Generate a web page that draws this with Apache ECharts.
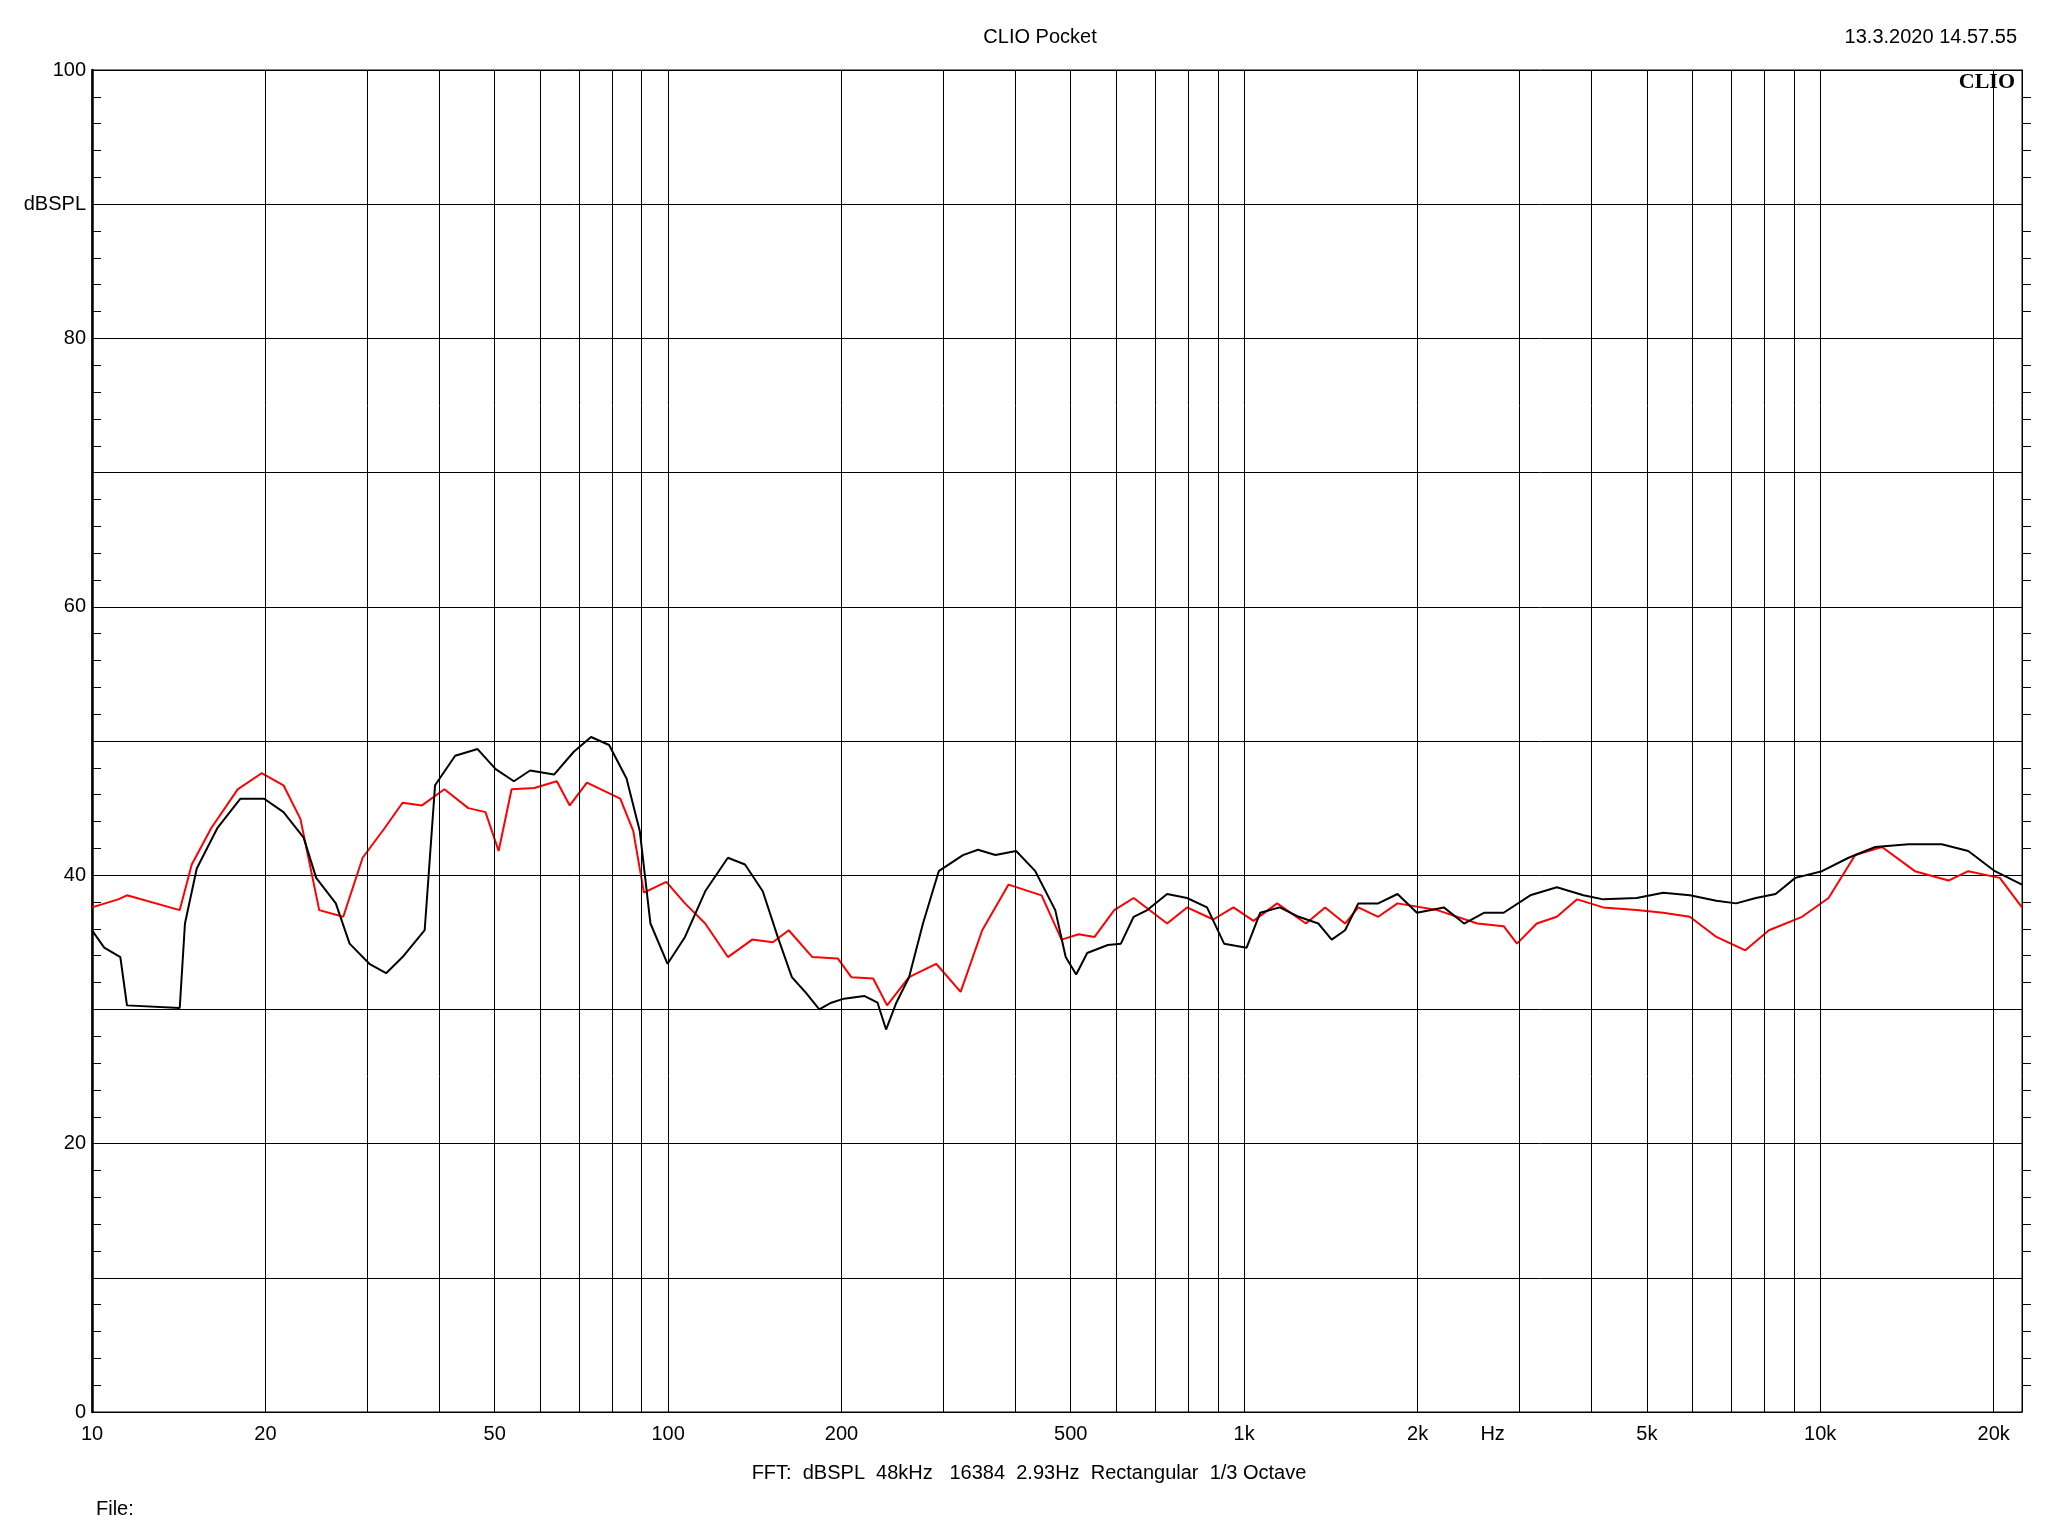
<!DOCTYPE html>
<html><head><meta charset="utf-8">
<script src="https://cdn.jsdelivr.net/npm/echarts@6/dist/echarts.min.js"></script>
<style>html,body{margin:0;padding:0;background:#fff}#c{width:2048px;height:1536px}</style>
</head><body><div id="c"></div>
<script>
const blackFreq=[10,10.5,11.2,11.5,14.2,14.5,15.2,16.5,18.1,19.9,21.5,23.3,24.5,26.5,28,30.3,32.4,34.6,37.8,39.4,42.7,46.7,50.2,54,57.6,63.4,68.6,73.5,79,84.7,89.3,93.2,99.8,107,116,127,136,146,155,164,173,183,192,202,219,231,239,249,262,277,295,325,345,370,402,434,470,490,511,534,580,611,643,679,735,796,862,923,1010,1066,1153,1244,1345,1419,1497,1578,1709,1846,1995,2221,2409,2607,2821,3138,3490,3881,4200,4801,5339,5938,6603,7146,7732,8366,9052,10070,11200,12460,14230,16250,18070,20100,22400];
const blackDb=[35.9,34.6,33.9,30.3,30.1,36.4,40.5,43.5,45.7,45.7,44.7,42.8,39.8,37.9,34.9,33.4,32.7,33.9,35.9,46.7,48.9,49.4,47.9,47.0,47.8,47.5,49.2,50.3,49.7,47.2,43.3,36.4,33.4,35.4,38.8,41.3,40.8,38.8,35.4,32.4,31.3,30.0,30.5,30.8,31.0,30.5,28.5,30.5,32.4,36.4,40.3,41.5,41.9,41.5,41.8,40.3,37.4,33.9,32.6,34.2,34.8,34.9,36.9,37.4,38.6,38.3,37.6,34.9,34.6,37.2,37.6,36.9,36.4,35.2,35.9,37.9,37.9,38.6,37.2,37.6,36.4,37.2,37.2,38.5,39.1,38.5,38.2,38.3,38.7,38.5,38.1,37.9,38.3,38.6,39.8,40.3,41.3,42.1,42.3,42.3,41.8,40.3,39.3];
const redFreq=[10,11.1,11.5,14.2,14.9,16.1,17.9,19.7,21.5,23,24.8,27.3,29.5,32.2,34.6,37.4,40.9,45,48.2,50.8,53.5,58.6,64.1,67.5,72.3,82.6,87,90.8,99.3,107,116,127,140,152,162,178,197,208,227,240,262,292,322,351,390,445,482,516,550,595,643,735,796,884,958,1038,1141,1280,1382,1497,1578,1709,1846,2163,2540,2821,2976,3221,3490,3785,4200,4801,5339,5938,6603,7414,8147,9300,10340,11500,12800,14600,16700,18070,20500,22400];
const redDb=[37.6,38.2,38.5,37.4,40.8,43.5,46.4,47.6,46.7,44.2,37.4,36.9,41.3,43.5,45.4,45.2,46.4,45.0,44.7,41.8,46.4,46.5,47.0,45.2,46.9,45.7,43.3,38.7,39.5,37.9,36.4,33.9,35.2,35.0,35.9,33.9,33.8,32.4,32.3,30.3,32.4,33.4,31.3,35.9,39.3,38.5,35.2,35.6,35.4,37.4,38.3,36.4,37.6,36.7,37.6,36.6,37.9,36.4,37.6,36.4,37.6,36.9,37.9,37.4,36.4,36.2,34.9,36.4,36.9,38.2,37.6,37.4,37.2,36.9,35.4,34.4,35.9,36.9,38.3,41.5,42.1,40.3,39.6,40.3,39.8,37.6];
const gridFreqs=[20,30,40,50,60,70,80,90,100,200,300,400,500,600,700,800,900,1000,2000,3000,4000,5000,6000,7000,8000,9000,10000,20000];
const labelFreqs=[10,20,50,100,200,500,1000,2000,2700,5000,10000,20000];
const labelTexts=['10','20','50','100','200','500','1k','2k','Hz','5k','10k','20k'];
const F='Liberation Sans';
const pairs=(f,d)=>f.map((v,i)=>[v,d[i]]);
const chart=echarts.init(document.getElementById('c'));
chart.setOption({
 animation:false,
 textStyle:{fontFamily:F},
 title:[
  {text:'CLIO Pocket',left:1035,top:22,textAlign:'center',textStyle:{fontFamily:F,fontSize:20,fontWeight:'normal',color:'#000'}},
  {text:'13.3.2020 14.57.55',right:26,top:22,textStyle:{fontFamily:F,fontSize:20,fontWeight:'normal',color:'#000'}},
  {text:'CLIO',right:28,top:66,textStyle:{fontFamily:'Liberation Serif',fontSize:22,fontWeight:'bold',color:'#000'}},
  {text:'FFT:  dBSPL  48kHz   16384  2.93Hz  Rectangular  1/3 Octave',left:1024,top:1458,textAlign:'center',textStyle:{fontFamily:F,fontSize:20,fontWeight:'normal',color:'#000'}},
  {text:'File:',left:91,top:1494,textStyle:{fontFamily:F,fontSize:20,fontWeight:'normal',color:'#000'}}
 ],
 grid:{left:92,right:26,top:70,bottom:124,show:true,borderColor:'#000',borderWidth:1},
 xAxis:{type:'log',logBase:10,min:10,max:22400,
   axisLabel:{show:true,customValues:labelFreqs,fontFamily:F,fontSize:20,color:'#000',margin:12,
     formatter:v=>{const i=labelFreqs.findIndex(f=>Math.abs(f-v)/f<1e-6);return i>=0?labelTexts[i]:'';}},
   axisTick:{show:false},splitLine:{show:false},axisLine:{lineStyle:{color:'#000'}}},
 yAxis:[
  {type:'value',min:0,max:100,interval:10,axisLine:{show:true,lineStyle:{color:'#000',width:2.5}},
   axisTick:{show:false},minorTick:{show:true,splitNumber:5,length:-9,lineStyle:{color:'#000'}},
   splitLine:{show:true,lineStyle:{color:'#000',width:1}},
   axisLabel:{fontFamily:F,fontSize:20,color:'#000',margin:6,formatter:v=>v%20===0?String(v):(v===90?'dBSPL':'')}},
  {type:'value',min:0,max:100,interval:10,position:'right',axisLine:{show:true,lineStyle:{color:'#000'}},
   axisTick:{show:true,inside:true,length:9,lineStyle:{color:'#000'}},minorTick:{show:true,splitNumber:5,length:-9,lineStyle:{color:'#000'}},
   splitLine:{show:false},axisLabel:{show:false}}
 ],
 series:[
  {type:'line',data:[],markLine:{silent:true,symbol:'none',animation:false,
    lineStyle:{color:'#000',width:1,type:'solid'},label:{show:false},
    data:gridFreqs.map(v=>({xAxis:v}))}},
  {type:'line',name:'black',data:pairs(blackFreq,blackDb),showSymbol:false,lineStyle:{color:'#000',width:2},z:4},
  {type:'line',name:'red',data:pairs(redFreq,redDb),showSymbol:false,lineStyle:{color:'#ff0000',width:2},z:3}
 ]
});
</script></body></html>
